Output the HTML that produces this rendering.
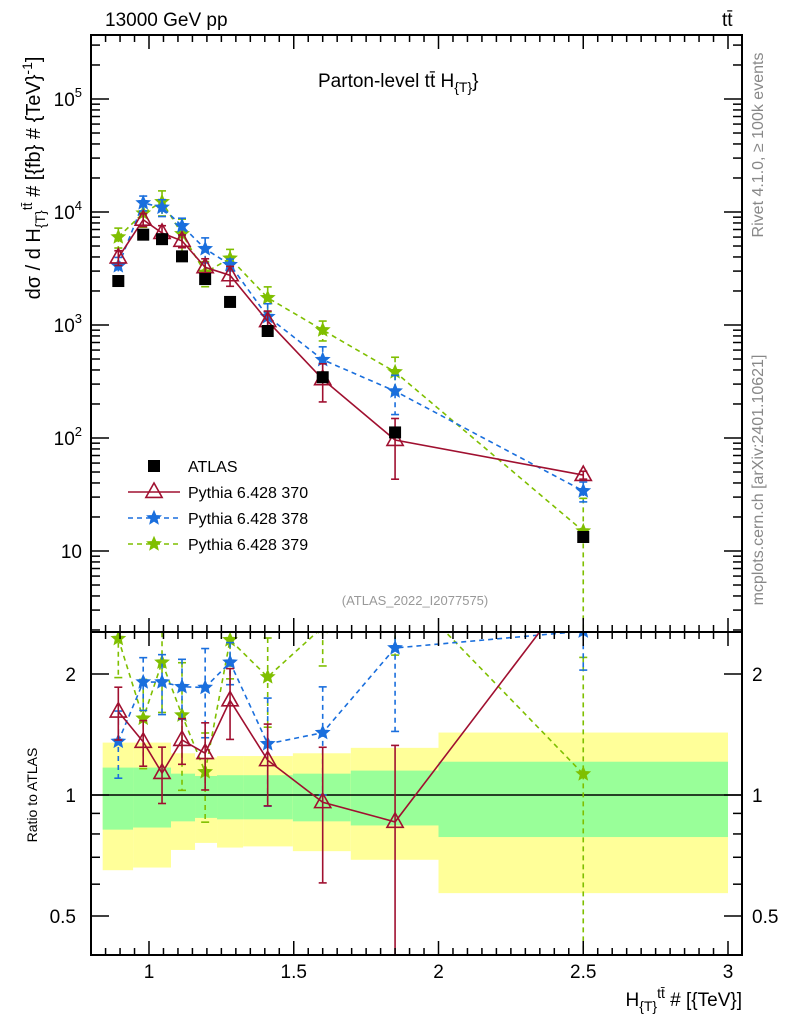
<!DOCTYPE html>
<html><head><meta charset="utf-8"><style>
html,body{margin:0;padding:0;background:#fff;width:786px;height:1024px;overflow:hidden;}
svg{display:block;font-family:"Liberation Sans",sans-serif;}
</style></head><body>
<svg id="c" width="786" height="1024" viewBox="0 0 786 1024">
<defs>
<clipPath id="clipMain"><rect x="91" y="35" width="651" height="597"/></clipPath>
<clipPath id="clipRatio"><rect x="91" y="632" width="651" height="323"/></clipPath>
</defs>
<g id="bands" clip-path="url(#clipRatio)"></g>
<g id="series"></g>
<rect x="91" y="35" width="651" height="597" fill="none" stroke="#000" stroke-width="2"/>
<rect x="91" y="632" width="651" height="323" fill="none" stroke="#000" stroke-width="2"/>
<g id="ticks"></g>
<text x="105" y="26" font-size="19">13000 GeV pp</text>
<text x="722" y="26" font-size="19">tt̄</text>
<text x="318" y="87" font-size="19">Parton-level tt̄  H<tspan font-size="14" dy="5">{T}</tspan><tspan dy="-5">}</tspan></text>
<text x="415" y="605" font-size="13" fill="#999" text-anchor="middle">(ATLAS_2022_I2077575)</text>
<text transform="translate(763,145) rotate(-90)" font-size="16" fill="#888" text-anchor="middle">Rivet 4.1.0, ≥ 100k events</text>
<text transform="translate(763,480) rotate(-90)" font-size="16" fill="#888" text-anchor="middle">mcplots.cern.ch [arXiv:2401.10621]</text>
<text transform="translate(40,178) rotate(-90)" font-size="20" text-anchor="middle">dσ / d H<tspan font-size="14" dy="5">{T}</tspan><tspan font-size="14" dy="-13">tt̄</tspan><tspan dy="8"> # [{fb} # {TeV}</tspan><tspan font-size="14" dy="-8">-1</tspan><tspan dy="8">]</tspan></text>
<text transform="translate(37,795) rotate(-90)" font-size="14" text-anchor="middle">Ratio to ATLAS</text>
<text x="742" y="1006" font-size="19" text-anchor="end">H<tspan font-size="14" dy="5">{T}</tspan><tspan font-size="14" dy="-13">tt̄</tspan><tspan dy="8"> # [{TeV}]</tspan></text>
<g id="legend"></g>
</svg>
<script>
const xVals=[0.894,0.98,1.045,1.114,1.194,1.28,1.41,1.6,1.85,2.5];
const binEdges=[0.84,0.945,1.076,1.159,1.235,1.325,1.497,1.697,2.0,3.0];
const atlasVals=[2450,6300,5750,4050,2550,1600,885,345,112,13.3];
const bandYellowHi=[1.35,1.35,1.27,1.24,1.25,1.25,1.27,1.31,1.43];
const bandGreenHi=[1.17,1.17,1.13,1.115,1.12,1.12,1.13,1.15,1.21];
const bandGreenLo=[0.82,0.83,0.86,0.877,0.87,0.87,0.86,0.84,0.786];
const bandYellowLo=[0.65,0.66,0.73,0.76,0.74,0.745,0.725,0.69,0.57];
const p370=[3950,8540,6520,5550,3240,2750,1080,331,96,47];
const p370err=[0.15,0.13,0.16,0.13,0.19,0.2,0.23,0.37,0.55,0.08];
const p378=[3330,12030,10980,7530,4720,3420,1186,493,260,34];
const p378err=[0.19,0.15,0.17,0.17,0.25,0.12,0.3,0.3,0.38,0.2];
const p379=[6000,9770,12300,6400,2910,3890,1740,903,384,15];
const p379err=[0.2,0.25,0.25,0.35,0.25,0.2,0.25,0.2,0.35,0.95];
const xTickLabels=["1","1.5","2","2.5","3"];
const yTickExps=[1,2,3,4,5];
const ratioTickLabels=["0.5","1","2"];

const NS="http://www.w3.org/2000/svg";
const X=v=>149+(v-1)*289.5;
const Y=v=>551-(Math.log10(v)-1)*113;
const R=v=>795-Math.log10(v)*402;
function el(t,a,p){const e=document.createElementNS(NS,t);for(const k in a)e.setAttribute(k,a[k]);p.appendChild(e);return e;}
const bands=document.getElementById('bands'),ticks=document.getElementById('ticks'),ser=document.getElementById('series'),leg=document.getElementById('legend');

for(let i=0;i<bandYellowHi.length;i++){
  const x0=X(binEdges[i]),x1=X(binEdges[i+1]);
  const y=el('rect',{x:x0,y:R(bandYellowHi[i]),width:x1-x0,height:R(bandYellowLo[i])-R(bandYellowHi[i]),fill:'#ffff99'},bands);
  
  
  const g=el('rect',{x:x0,y:R(bandGreenHi[i]),width:x1-x0,height:R(bandGreenLo[i])-R(bandGreenHi[i]),fill:'#99ff99'},bands);
  
  
}
const one=el('line',{x1:91,x2:742,y1:R(1),y2:R(1),stroke:'#000','stroke-width':1.5},bands);



for(let k=0;k<=45;k++){const v=0.8+k*0.05;if(v>3.04)break;const x=X(v);const major=Math.abs(v*2-Math.round(v*2))<1e-6;const L=major?14:7;
  [[35,1],[632,-1],[632,1],[955,-1]].forEach(([y,d])=>el('line',{x1:x,x2:x,y1:y,y2:y+d*L,stroke:'#000','stroke-width':1.5},ticks));}
xTickLabels.forEach((t,i)=>{const tx=el('text',{x:X(1+i*0.5),y:978,'font-size':19,'text-anchor':'middle'},ticks);tx.textContent=t;
  
  });
for(let e=0;e<=5;e++){for(let m=1;m<10;m++){const v=m*Math.pow(10,e);const y=Y(v);if(y<35||y>632)continue;const L=m==1?18:9;
  el('line',{x1:91,x2:91+L,y1:y,y2:y,stroke:'#000','stroke-width':1.5},ticks);el('line',{x1:742,x2:742-L,y1:y,y2:y,stroke:'#000','stroke-width':1.5},ticks);}}
yTickExps.forEach(e=>{const t=el('text',{x:82,y:Y(Math.pow(10,e))+7,'font-size':19,'text-anchor':'end'},ticks);
  if(e==1)t.textContent='10';else{t.innerHTML='10<tspan font-size="13" dy="-9">'+e+'</tspan>';}
  
  });
[0.4,0.5,0.6,0.7,0.8,0.9,1,2].forEach(v=>{const y=R(v);const L=(v==0.5||v==1||v==2)?18:9;
  el('line',{x1:91,x2:91+L,y1:y,y2:y,stroke:'#000','stroke-width':1.5},ticks);el('line',{x1:742,x2:742-L,y1:y,y2:y,stroke:'#000','stroke-width':1.5},ticks);});
ratioTickLabels.forEach(t=>{const v=parseFloat(t);
  const a=el('text',{x:76,y:R(v)+7,'font-size':19,'text-anchor':'end'},ticks);a.textContent=t;
  
  
  const b=el('text',{x:752,y:R(v)+7,'font-size':19},ticks);b.textContent=t;
  
  });

function star(g,x,y,c,s){let p='';for(let i=0;i<10;i++){const r=i%2?s*0.45:s;const a=-Math.PI/2+i*Math.PI/5;p+=(x+r*Math.cos(a)).toFixed(1)+','+(y+r*Math.sin(a)).toFixed(1)+' ';}
  return el('polygon',{points:p,fill:c,stroke:c,'stroke-width':1},g);}
function tri(g,x,y,c,s){return el('polygon',{points:`${x},${y-s} ${x-s*0.9},${y+s*0.6} ${x+s*0.9},${y+s*0.6}`,fill:'none',stroke:c,'stroke-width':1.6},g);}
function drawSeries(vals,errs,color,dash,kind,name){
  ['main','ratio'].forEach(panel=>{
    const g=el('g',{'clip-path':panel=='main'?'url(#clipMain)':'url(#clipRatio)'},ser);
    
    
    const f=panel=='main'?(i,v)=>Y(v):(i,v)=>R(v/atlasVals[i]);
    const pts=vals.map((v,i)=>X(xVals[i])+','+f(i,v)).join(' ');
    el('polyline',{points:pts,fill:'none',stroke:color,'stroke-width':1.6,'stroke-dasharray':dash},g);
    vals.forEach((v,i)=>{const x=X(xVals[i]);const hi=f(i,v*(1+errs[i])),lo=f(i,Math.max(v*(1-errs[i]),v*0.001));
      el('line',{x1:x,x2:x,y1:hi,y2:lo,stroke:color,'stroke-width':1.6,'stroke-dasharray':dash},g);
      el('line',{x1:x-4,x2:x+4,y1:hi,y2:hi,stroke:color,'stroke-width':1.6},g);
      el('line',{x1:x-4,x2:x+4,y1:lo,y2:lo,stroke:color,'stroke-width':1.6},g);
      const m=kind=='tri'?tri(g,x,f(i,v),color,9):star(g,x,f(i,v),color,7);
      
      });
  });
}
drawSeries(p379,p379err,'#7fbf00','5,4','star','pythia-379');
drawSeries(p378,p378err,'#1a6fdd','5,4','star','pythia-378');
drawSeries(p370,p370err,'#a01030','','tri','pythia-370');
const ag=el('g',{'clip-path':'url(#clipMain)'},ser);


atlasVals.forEach((v,i)=>{const r=el('rect',{x:X(xVals[i])-6,y:Y(v)-6,width:12,height:12,fill:'#000'},ag);
  
  });

const legItems=[['ATLAS','#000','','sq'],['Pythia 6.428 370','#a01030','','tri'],['Pythia 6.428 378','#1a6fdd','5,4','star'],['Pythia 6.428 379','#7fbf00','5,4','star']];
legItems.forEach((it,i)=>{const y=466+i*26;const g=el('g',{},leg);
  
  
  if(it[3]=='sq')el('rect',{x:148,y:y-6,width:12,height:12,fill:'#000'},g);
  else{el('line',{x1:128,x2:180,y1:y,y2:y,stroke:it[1],'stroke-width':1.6,'stroke-dasharray':it[2]},g);
    if(it[3]=='tri')tri(g,154,y,it[1],9);else star(g,154,y,it[1],7);}
  const t=el('text',{x:188,y:y+6,'font-size':16},g);t.textContent=it[0];});
</script>
</body></html>
